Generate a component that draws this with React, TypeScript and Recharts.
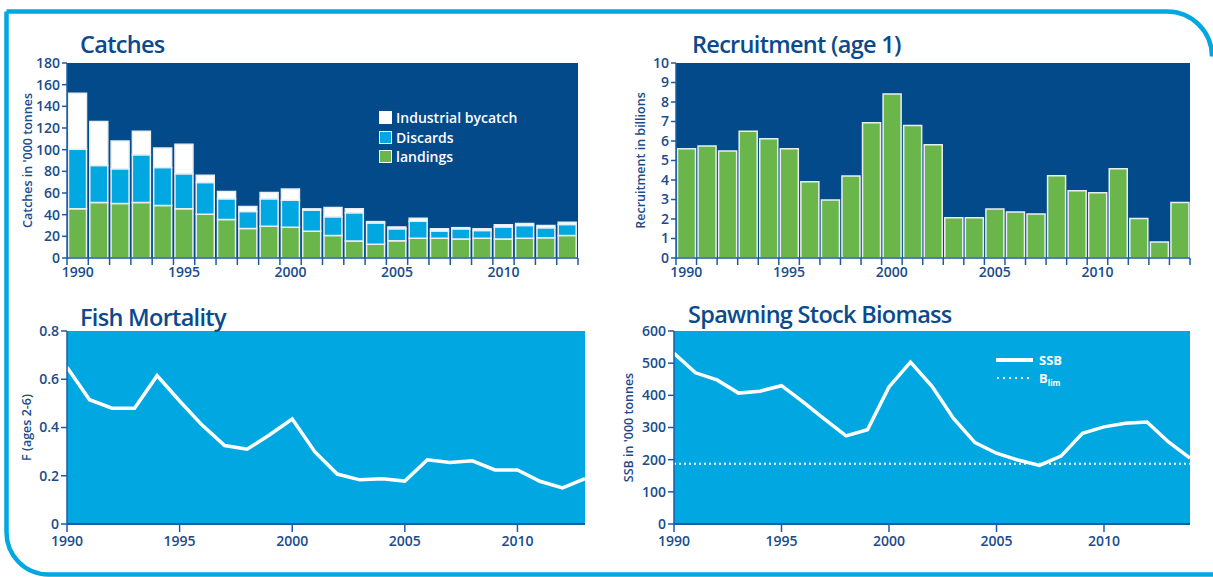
import {
  Bar,
  BarChart,
  CartesianGrid,
  Legend,
  Line,
  LineChart,
  ReferenceLine,
  XAxis,
  YAxis,
} from "recharts";

const catchYears = [1990, 1991, 1992, 1993, 1994, 1995, 1996, 1997, 1998, 1999, 2000, 2001, 2002, 2003, 2004, 2005, 2006, 2007, 2008, 2009, 2010, 2011, 2012, 2013];
const landings = [45.4, 51.2, 50.3, 51.2, 48.5, 45.4, 40.4, 35.5, 27.2, 29.3, 28.4, 24.7, 20.7, 15.7, 12.7, 16.0, 18.2, 18.2, 17.6, 18.2, 17.6, 18.2, 18.8, 20.7];
const discards = [54.9, 34.3, 32.1, 44.2, 35.1, 32.4, 29.4, 19.1, 15.7, 25.3, 25.0, 19.4, 17.3, 26.0, 19.7, 10.9, 15.8, 6.8, 9.3, 7.1, 11.1, 11.8, 9.2, 10.2];
const bycatch = [51.7, 40.5, 25.6, 21.6, 17.9, 27.2, 6.7, 6.8, 4.6, 5.9, 10.2, 1.3, 8.6, 3.7, 1.2, 1.8, 2.7, 1.9, 1.1, 1.6, 1.9, 1.8, 2.0, 2.1];
const catchTicks = [0, 20, 40, 60, 80, 100, 120, 140, 160, 180];
const catchLegendOrder = ["Industrial bycatch", "Discards", "landings"];

const recYears = [1990, 1991, 1992, 1993, 1994, 1995, 1996, 1997, 1998, 1999, 2000, 2001, 2002, 2003, 2004, 2005, 2006, 2007, 2008, 2009, 2010, 2011, 2012, 2013, 2014];
const recruitment = [5.6, 5.74, 5.49, 6.5, 6.12, 5.6, 3.91, 2.97, 4.2, 6.94, 8.41, 6.8, 5.81, 2.07, 2.07, 2.51, 2.36, 2.26, 4.22, 3.45, 3.35, 4.58, 2.03, 0.82, 2.84];
const recTicks = [0, 1, 2, 3, 4, 5, 6, 7, 8, 9, 10];

const fYears = [1990, 1991, 1992, 1993, 1994, 1995, 1996, 1997, 1998, 1999, 2000, 2001, 2002, 2003, 2004, 2005, 2006, 2007, 2008, 2009, 2010, 2011, 2012, 2013];
const fishMortality = [0.65, 0.515, 0.48, 0.48, 0.615, 0.51, 0.41, 0.325, 0.31, 0.37, 0.435, 0.3, 0.207, 0.183, 0.188, 0.178, 0.266, 0.255, 0.262, 0.224, 0.224, 0.177, 0.15, 0.188];
const fTicks = [0, 0.2, 0.4, 0.6, 0.8];

const ssbYears = [1990, 1991, 1992, 1993, 1994, 1995, 1996, 1997, 1998, 1999, 2000, 2001, 2002, 2003, 2004, 2005, 2006, 2007, 2008, 2009, 2010, 2011, 2012, 2013, 2014];
const ssb = [531, 470, 448, 407, 413, 430, 380, 326, 274, 293, 426, 503, 428, 328, 253, 220, 199, 182, 211, 282, 302, 313, 317, 255, 205];
const blim = 187;
const ssbTicks = [0, 100, 200, 300, 400, 500, 600];

const yearTicks = [1990, 1995, 2000, 2005, 2010];

const NAVY = "#034a8b";
const SKY = "#00a7e1";
const GREEN = "#6bb64b";
const INK = "#1a4c8c";
const AXIS = "#1d5ca3";
const FONT = "'Open Sans', sans-serif";

const catchData = catchYears.map((year, i) => ({
  year,
  landings: landings[i],
  Discards: discards[i],
  "Industrial bycatch": bycatch[i],
}));
const recData = recYears.map((year, i) => ({ year, value: recruitment[i] }));
const fData = fYears.map((year, i) => ({ year, f: fishMortality[i] }));
const ssbData = ssbYears.map((year, i) => ({ year, ssb: ssb[i] }));

const tickStyle = { fill: INK, fontSize: 14, fontWeight: 600, fontFamily: FONT };

// tick drawn at band edges, label in the band centre every 5 years
function BandTick(props: any) {
  const { x, y, payload, index, band, count } = props;
  const yr = Number(payload.value);
  const left = x - band / 2;
  return (
    <g>
      <line x1={left} x2={left} y1={y} y2={y + 7} stroke={AXIS} strokeWidth={1.5} />
      {index === count - 1 && (
        <line x1={left + band} x2={left + band} y1={y} y2={y + 7} stroke={AXIS} strokeWidth={1.5} />
      )}
      {yr % 5 === 0 && (
        <text x={x} y={y + 19} textAnchor="middle" {...tickStyle}>
          {yr}
        </text>
      )}
    </g>
  );
}

function axisTitle(text: string, dx: number) {
  return {
    value: text,
    content: (p: any) => {
      const vb = p.viewBox;
      const cx = vb.x + dx;
      const cy = vb.y + vb.height / 2;
      return (
        <text
          x={cx}
          y={cy}
          transform={`rotate(-90 ${cx} ${cy})`}
          textAnchor="middle"
          dominantBaseline="central"
          fill={INK}
          fontSize={12.5}
          fontWeight={600}
          fontFamily={FONT}
        >
          {text}
        </text>
      );
    },
  };
}

function Title({ text, left, top }: { text: string; left: number; top: number }) {
  return (
    <div
      style={{
        position: "absolute",
        left,
        top,
        fontFamily: FONT,
        fontSize: 23.5,
        fontWeight: 600,
        lineHeight: 1,
        letterSpacing: -0.7,
        color: "#0b4a8c",
        whiteSpace: "nowrap",
      }}
    >
      {text}
    </div>
  );
}

function CatchLegend({ payload }: any) {
  const items = catchLegendOrder
    .map((name) => (payload || []).find((it: any) => it.value === name))
    .filter(Boolean);
  return (
    <div style={{ fontFamily: FONT }}>
      {items.map((it: any) => (
        <div key={it.value} style={{ display: "flex", alignItems: "center", height: 19.5 }}>
          <span
            style={{
              width: 11,
              height: 11,
              background: it.color,
              border: "1.5px solid #fff",
              marginRight: 4,
            }}
          />
          <span style={{ color: "#fff", fontSize: 14, fontWeight: 600 }}>{it.value}</span>
        </div>
      ))}
    </div>
  );
}

function SsbLegend() {
  return (
    <svg width={90} height={40} style={{ overflow: "visible" }}>
      <line x1={0} x2={37} y1={8} y2={8} stroke="#fff" strokeWidth={4} />
      <text x={43} y={13} fill="#fff" fontSize={13} fontWeight={700} fontFamily={FONT}>
        SSB
      </text>
      <line x1={1} x2={36} y1={26} y2={26} stroke="#fff" strokeWidth={1.8} strokeDasharray="2 4" />
      <text x={43} y={31} fill="#fff" fontSize={13} fontWeight={700} fontFamily={FONT}>
        B<tspan fontSize={8} dy={3}>lim</tspan>
      </text>
    </svg>
  );
}

// layout vertical + align center + verticalAlign middle keeps the legend from reserving chart space
const floatingLegend = { layout: "vertical" as const, align: "center" as const, verticalAlign: "middle" as const };

function CatchesChart() {
  const W = 600;
  const left = 67;
  const right = 22;
  const band = (W - left - right) / catchYears.length;
  return (
    <BarChart
      width={W}
      height={290}
      data={catchData}
      margin={{ top: 63, right, bottom: 0, left: 0 }}
      barCategoryGap={1.5}
    >
      <CartesianGrid fill={NAVY} fillOpacity={1} stroke="none" horizontal={false} vertical={false} />
      <XAxis
        dataKey="year"
        height={32}
        interval={0}
        tickSize={0}
        tickMargin={0}
        axisLine={{ stroke: AXIS, strokeWidth: 1.5 }}
        tick={(p: any) => <BandTick {...p} band={band} count={catchYears.length} />}
      />
      <YAxis
        width={left}
        domain={[0, 180]}
        ticks={catchTicks}
        interval={0}
        tickSize={5}
        tickMargin={2}
        tick={tickStyle}
        axisLine={{ stroke: AXIS, strokeWidth: 1.5 }}
        tickLine={{ stroke: AXIS, strokeWidth: 1.5 }}
        label={axisTitle("Catches in '000 tonnes", 27)}
      />
      <Legend
        {...floatingLegend}
        wrapperStyle={{ left: 379, top: 108, width: 180 }}
        content={<CatchLegend />}
      />
      <Bar dataKey="landings" stackId="c" fill={GREEN} stroke="#e9eef3" strokeWidth={1.5} isAnimationActive={false} />
      <Bar dataKey="Discards" stackId="c" fill={SKY} stroke="#e9eef3" strokeWidth={1.5} isAnimationActive={false} />
      <Bar dataKey="Industrial bycatch" stackId="c" fill="#ffffff" stroke="#e9eef3" strokeWidth={1.5} isAnimationActive={false} />
    </BarChart>
  );
}

function RecruitmentChart() {
  const W = 613;
  const left = 76;
  const right = 23;
  const band = (W - left - right) / recYears.length;
  return (
    <BarChart width={W} height={290} data={recData} margin={{ top: 63, right, bottom: 0, left: 0 }} barCategoryGap={1.5}>
      <CartesianGrid fill={NAVY} fillOpacity={1} stroke="none" horizontal={false} vertical={false} />
      <XAxis
        dataKey="year"
        height={32}
        interval={0}
        tickSize={0}
        tickMargin={0}
        axisLine={{ stroke: AXIS, strokeWidth: 1.5 }}
        tick={(p: any) => <BandTick {...p} band={band} count={recYears.length} />}
      />
      <YAxis
        width={left}
        domain={[0, 10]}
        ticks={recTicks}
        interval={0}
        tickSize={5}
        tickMargin={2}
        tick={tickStyle}
        axisLine={{ stroke: AXIS, strokeWidth: 1.5 }}
        tickLine={{ stroke: AXIS, strokeWidth: 1.5 }}
        label={axisTitle("Recruitment in billions", 40)}
      />
      <Bar dataKey="value" fill={GREEN} stroke="#e9eef3" strokeWidth={1.5} isAnimationActive={false} />
    </BarChart>
  );
}

function MortalityChart() {
  return (
    <LineChart width={600} height={287} data={fData} margin={{ top: 41, right: 15, bottom: 0, left: 0 }}>
      <CartesianGrid fill={SKY} fillOpacity={1} stroke="none" horizontal={false} vertical={false} />
      <XAxis
        dataKey="year"
        type="number"
        domain={[1990, 2013]}
        ticks={yearTicks}
        interval={0}
        height={53}
        tickSize={8}
        tickMargin={4}
        tick={tickStyle}
        axisLine={{ stroke: AXIS, strokeWidth: 2 }}
        tickLine={{ stroke: AXIS, strokeWidth: 1.5 }}
      />
      <YAxis
        width={67}
        domain={[0, 0.8]}
        ticks={fTicks}
        interval={0}
        tickSize={6}
        tickMargin={2}
        tick={tickStyle}
        tickFormatter={(v: number) => (v === 0 ? "0" : v.toFixed(1))}
        axisLine={{ stroke: AXIS, strokeWidth: 1.5 }}
        tickLine={{ stroke: AXIS, strokeWidth: 1.5 }}
        label={axisTitle("F (ages 2-6)", 26)}
      />
      <Line dataKey="f" type="linear" stroke="#fff" strokeWidth={3.5} dot={false} isAnimationActive={false} />
    </LineChart>
  );
}

function SsbChart() {
  return (
    <LineChart width={613} height={287} data={ssbData} margin={{ top: 41, right: 23, bottom: 0, left: 0 }}>
      <CartesianGrid fill={SKY} fillOpacity={1} stroke="none" horizontal={false} vertical={false} />
      <XAxis
        dataKey="year"
        type="number"
        domain={[1990, 2014]}
        ticks={yearTicks}
        interval={0}
        height={53}
        tickSize={8}
        tickMargin={4}
        tick={tickStyle}
        axisLine={{ stroke: AXIS, strokeWidth: 2 }}
        tickLine={{ stroke: AXIS, strokeWidth: 1.5 }}
      />
      <YAxis
        width={74}
        domain={[0, 600]}
        ticks={ssbTicks}
        interval={0}
        tickSize={6}
        tickMargin={2}
        tick={tickStyle}
        axisLine={{ stroke: AXIS, strokeWidth: 1.5 }}
        tickLine={{ stroke: AXIS, strokeWidth: 1.5 }}
        label={axisTitle("SSB in '000 tonnes", 28)}
      />
      <ReferenceLine y={blim} stroke="#fff" strokeWidth={2} strokeDasharray="2 3" ifOverflow="extendDomain" />
      <Legend {...floatingLegend} wrapperStyle={{ left: 396, top: 62, width: 90 }} content={<SsbLegend />} />
      <Line dataKey="ssb" name="SSB" type="linear" stroke="#fff" strokeWidth={3.5} dot={false} isAnimationActive={false} />
    </LineChart>
  );
}

export default function App() {
  return (
    <div style={{ position: "absolute", left: 0, top: 0, width: 1213, height: 577, background: "#fff", overflow: "hidden" }}>
      <svg width={1213} height={577} style={{ position: "absolute", left: 0, top: 0 }}>
        <path
          d="M 6.5 11.5 H 1167 A 45 45 0 0 1 1212 56.5"
          fill="none"
          stroke="#00a8e1"
          strokeWidth={4.5}
        />
        <path d="M 6.5 11.5 V 532 A 42 42 0 0 0 48.5 574.5 H 1213" fill="none" stroke="#00a8e1" strokeWidth={4.5} />
      </svg>
      <div style={{ position: "absolute", left: 0, top: 0 }}>
        <CatchesChart />
      </div>
      <div style={{ position: "absolute", left: 600, top: 0 }}>
        <RecruitmentChart />
      </div>
      <div style={{ position: "absolute", left: 0, top: 290 }}>
        <MortalityChart />
      </div>
      <div style={{ position: "absolute", left: 600, top: 290 }}>
        <SsbChart />
      </div>
      <Title text="Catches" left={80} top={33} />
      <Title text="Recruitment (age 1)" left={692} top={33} />
      <Title text="Fish Mortality" left={80} top={306} />
      <Title text="Spawning Stock Biomass" left={688} top={303} />
    </div>
  );
}
